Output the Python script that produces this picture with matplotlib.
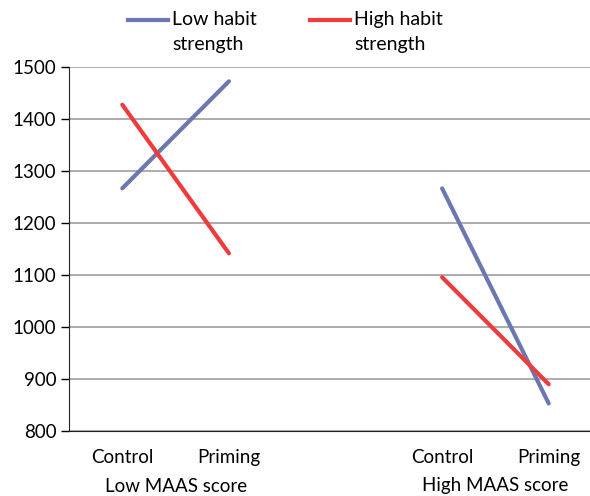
import numpy as np
import matplotlib.pyplot as plt
from matplotlib.lines import Line2D
from matplotlib.transforms import blended_transform_factory

plt.rcParams['font.family'] = ['Lato', 'DejaVu Sans']

# Categories (blank slot separates the two MAAS groups)
conditions = ['Control', 'Priming', '', 'Control', 'Priming']
groups = ['Low MAAS score', 'High MAAS score']
low_habit = [1267, 1473, np.nan, 1267, 853]
high_habit = [1428, 1142, np.nan, 1096, 890]

blue = '#6B77B0'
red = '#EF3B3B'

fig = plt.figure(figsize=(5.9, 4.96), dpi=100)
ax = fig.add_axes([69 / 590, 1 - 431 / 496, (602 - 69) / 590, (431 - 67.3) / 496])

x = np.arange(len(conditions))
ax.plot(x, low_habit, color=blue, lw=3, solid_capstyle='round', zorder=3)
ax.plot(x, high_habit, color=red, lw=3, solid_capstyle='round', zorder=3)

ax.set_xlim(-0.5, 4.5)
ax.set_ylim(800, 1500)
ax.set_yticks(range(800, 1501, 100))
ax.set_xticks(x)
ax.set_xticklabels(conditions)
ax.tick_params(axis='x', length=0, pad=13, labelsize=13.5)
ax.tick_params(axis='y', length=6, width=1, pad=3, labelsize=13.5)
ax.yaxis.grid(True, color='#A6A6A6', lw=1.3)
ax.set_axisbelow(True)
for s in ['top', 'right']:
    ax.spines[s].set_visible(False)
ax.spines['left'].set_color('#222222')
ax.spines['bottom'].set_color('#222222')

# Group labels under each pair
tr = blended_transform_factory(ax.transData, fig.transFigure)
ax.text(0.5, 1 - 486 / 496, groups[0], transform=tr, ha='center', va='center', fontsize=13.5)
ax.text(3.5, 1 - 486 / 496, groups[1], transform=tr, ha='center', va='center', fontsize=13.5)

# Legend (handle aligned with first text line)
labels = ['Low habit\nstrength', 'High habit\nstrength']
for x0, col, lab in [(128, blue, labels[0]), (310, red, labels[1])]:
    fig.add_artist(Line2D([x0 / 590, (x0 + 40) / 590], [1 - 20 / 496] * 2,
                          color=col, lw=3, transform=fig.transFigure))
    fig.text((x0 + 44) / 590, 1 - 11 / 496, lab, ha='left', va='top',
             fontsize=14, linespacing=1.6)

fig.savefig('out.png', dpi=100)
